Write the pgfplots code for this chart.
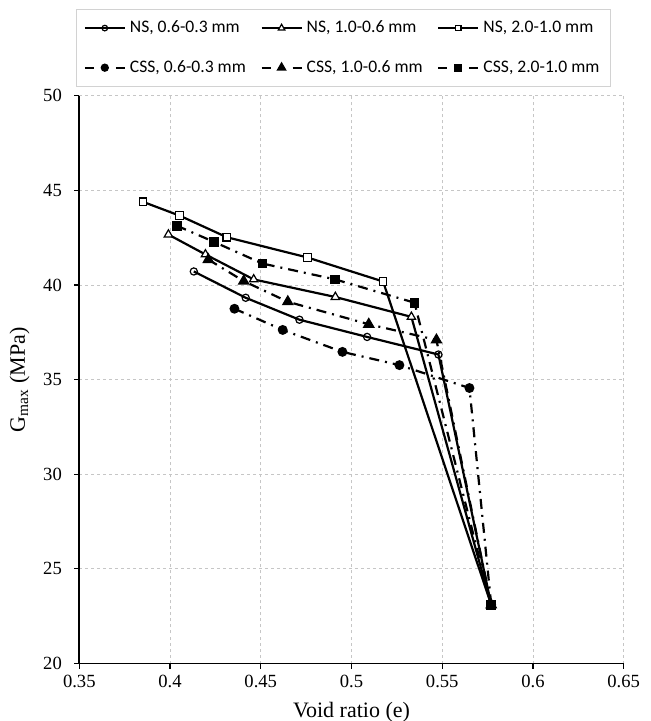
\documentclass[border=0pt]{standalone}
\usepackage{fontspec}
\setmainfont{Liberation Serif}
\newfontfamily\legfont{Carlito}
\usepackage{pgfplots}
\pgfplotsset{compat=1.18}

% legend entry font, with a fixed height and depth
\newcommand\lf{\legfont\fontsize{8.8}{10}\selectfont\rule[-1.5pt]{0pt}{7.5pt}}

% shared frame of both axes
\pgfplotsset{
    gframe/.style={
        at={(0,0)}, anchor=south west,
        scale only axis, width=272.2pt, height=283.8pt,
        xmin=0.35, xmax=0.65, ymin=20, ymax=50,
        axis x line*=bottom, axis y line*=left,
    },
    cssline/.style={black, line width=1.1pt,
        dash pattern=on 5pt off 3pt on 1pt off 3pt,
        legend image post style={dash pattern=on 4.5pt off 11pt on 4.5pt}},
    nsline/.style={black, line width=1.1pt},
}

\begin{document}
\begin{tikzpicture}[x=1pt,y=1pt]
\useasboundingbox (-39.65,-28.75) rectangle (285.85,331.75);
% minor ticks, drawn inside
\begin{axis}[gframe,
    axis line style={draw=none},
    xtick=\empty, ytick=\empty,
    minor xtick={0.36,0.37,0.38,0.39,0.41,0.42,0.43,0.44,0.46,0.47,0.48,0.49,
                 0.51,0.52,0.53,0.54,0.56,0.57,0.58,0.59,0.61,0.62,0.63,0.64},
    minor ytick={21,22,23,24,26,27,28,29,31,32,33,34,36,37,38,39,41,42,43,44,46,47,48,49},
    tick align=inside, minor tick length=2.2pt,
    tick style={black, line width=0.6pt},
]
\end{axis}
\begin{axis}[gframe,
    xtick={0.35,0.4,...,0.651}, ytick={20,25,...,50},
    xticklabel={\pgfmathprintnumber[assume math mode=true]{\tick}},
    yticklabel={\pgfmathprintnumber[assume math mode=true]{\tick}},
    axis line style={line width=0.8pt, -},
    tick style={black, line width=0.6pt},
    tick align=outside, major tick length=2.5pt,
    grid=major,
    major grid style={gray!45, line width=0.4pt, dash pattern=on 1.5pt off 1.5pt},
    ticklabel style={font=\rmfamily\fontsize{9.3}{11}\selectfont},
    yticklabel style={xshift=-2.7pt},
    xlabel={Void ratio (e)},
    ylabel={G\textsubscript{max} (MPa)},
    label style={font=\rmfamily\fontsize{11}{13}\selectfont},
    legend columns=3,
    legend image code/.code={
        \draw[mark repeat=2, mark phase=2, #1]
            plot coordinates {(0pt,0pt) (10pt,0pt) (20pt,0pt)};},
    legend style={
        at={(rel axis cs:0,1)}, anchor=north west,
        xshift=-1.65pt, yshift=43.35pt,
        draw=gray!35, line width=0.5pt,
        font=\fontsize{8.8}{10}\selectfont,
        inner xsep=3.6pt, inner ysep=3.45pt, row sep=8.3pt,
        /tikz/every even column/.append style={column sep=5.3pt},
    },
    legend cell align=left,
]
% NS series
\addplot[nsline, mark=o, mark size=1.8pt,
    mark options={solid, fill=white, line width=0.6pt},
    legend image post style={mark size=1.4pt}]
    coordinates {(0.4131,40.72) (0.4417,39.33) (0.4713,38.17) (0.5086,37.26) (0.5479,36.33) (0.5770,23.1)};
\addplot[nsline, mark=triangle*, mark size=2.4pt,
    mark options={solid, fill=white, line width=0.6pt},
    legend image post style={mark size=1.9pt}]
    coordinates {(0.3991,42.67) (0.4195,41.62) (0.4461,40.30) (0.4911,39.37) (0.5330,38.32) (0.5770,23.1)};
\addplot[nsline, mark=square*, mark size=1.9pt,
    mark options={solid, fill=white, line width=0.6pt},
    legend image post style={mark size=1.35pt}]
    coordinates {(0.3851,44.40) (0.4053,43.67) (0.4313,42.53) (0.4757,41.46) (0.5174,40.19) (0.5770,23.1)};
% CSS series
\addplot[cssline, mark=*, mark size=1.9pt, mark options={solid, fill=black},
    legend image post style={mark size=1.5pt}]
    coordinates {(0.4355,38.75) (0.4621,37.63) (0.4950,36.47) (0.5264,35.77) (0.5650,34.56) (0.5770,23.1)};
\addplot[cssline, mark=triangle*, mark size=2.4pt, mark options={solid, fill=black},
    legend image post style={mark size=1.9pt}]
    coordinates {(0.4211,41.35) (0.4406,40.21) (0.4649,39.12) (0.5095,37.93) (0.5468,37.10) (0.5770,23.1)};
\addplot[cssline, mark=square*, mark size=1.9pt, mark options={solid, fill=black},
    legend image post style={mark size=1.4pt}]
    coordinates {(0.4037,43.14) (0.4243,42.28) (0.4509,41.14) (0.4910,40.30) (0.5347,39.07) (0.5770,23.1)};
\legend{{\lf NS, 0.6-0.3 mm}, {\lf NS, 1.0-0.6 mm}, {\lf NS, 2.0-1.0 mm},
        {\lf CSS, 0.6-0.3 mm}, {\lf CSS, 1.0-0.6 mm}, {\lf CSS, 2.0-1.0 mm}}
\end{axis}
\end{tikzpicture}
\end{document}
